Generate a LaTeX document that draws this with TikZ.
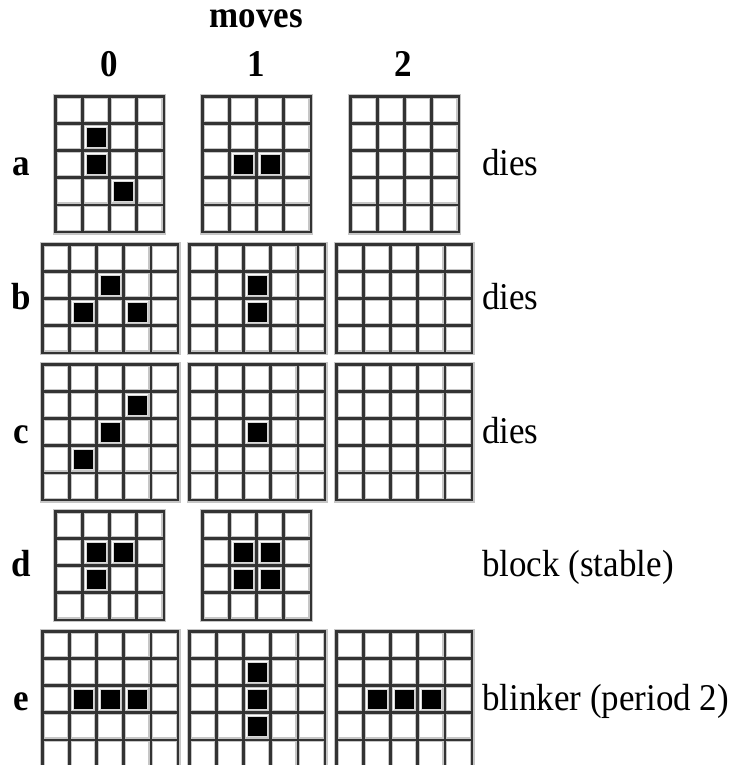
\documentclass[tikz,border=0pt]{standalone}
\usepackage{graphicx}
\usepackage{fontspec}
\setmainfont{Liberation Serif}
\newcommand\tallt[1]{\scalebox{1}[1.08]{#1}}
\tikzset{
  gridhalo/.style={draw=gray!45, line width=5pt, line cap=rect},
  gridcore/.style={draw=black!80, line width=2.7pt, line cap=rect},
  alive/.style={rectangle, fill=black, draw=gray!30, line width=1.2pt,
    minimum size=20pt, inner sep=0pt},
  rowlabel/.style={font=\fontsize{35}{40}\selectfont\bfseries, anchor=base, inner sep=0pt},
  colhead/.style={font=\fontsize{35}{40}\selectfont\bfseries, anchor=base, inner sep=0pt},
  fate/.style={font=\fontsize{35}{40}\selectfont, anchor=base west, inner sep=0pt}
}
\newcommand\lifegrid[5]{% name, x, y, cols, rows
  \coordinate (#1) at (#2,#3);
  \foreach \i in {0,...,#4} \draw[gridhalo] ([shift={({\i*27.1},0)}]#1) -- ++(0,{#5*27.1});
  \foreach \j in {0,...,#5} \draw[gridhalo] ([shift={(0,{\j*27.1})}]#1) -- ++({#4*27.1},0);
  \foreach \i in {0,...,#4} \draw[gridcore] ([shift={({\i*27.1},0)}]#1) -- ++(0,{#5*27.1});
  \foreach \j in {0,...,#5} \draw[gridcore] ([shift={(0,{\j*27.1})}]#1) -- ++({#4*27.1},0);
}
\newcommand\cellon[3]{% grid name, col, row
  \node[alive] (#1-#2-#3) at ([shift={({(#2+0.5)*27.1},{(#3+0.5)*27.1})}]#1) {};
}
\begin{document}
\begin{tikzpicture}[x=1pt, y=-1pt]
  \useasboundingbox (0,0) rectangle (735,765);
  \clip (0,0) rectangle (735,765);

  % headings
  \node[colhead] (moves) at (256,28) {\smash{\tallt{moves}}};
  \node[colhead] (h0) at (109,77) {\tallt{0}};
  \node[colhead] (h1) at (256,77) {\tallt{1}};
  \node[colhead] (h2) at (403,77) {\tallt{2}};

  % row a
  \lifegrid{a0}{55.5}{96.5}{4}{5}
  \lifegrid{a1}{202.5}{96.5}{4}{5}
  \lifegrid{a2}{350.5}{96.5}{4}{5}
  \cellon{a0}{1}{1}\cellon{a0}{1}{2}\cellon{a0}{2}{3}
  \cellon{a1}{1}{2}\cellon{a1}{2}{2}
  \node[rowlabel] (la) at (21,175) {\tallt{a}};
  \node[fate] (fa) at (482,175) {\tallt{dies}};

  % row b
  \lifegrid{b0}{42.5}{244.5}{5}{4}
  \lifegrid{b1}{189.5}{244.5}{5}{4}
  \lifegrid{b2}{336.5}{244.5}{5}{4}
  \cellon{b0}{2}{1}\cellon{b0}{1}{2}\cellon{b0}{3}{2}
  \cellon{b1}{2}{1}\cellon{b1}{2}{2}
  \node[rowlabel] (lb) at (21,309) {\tallt{b}};
  \node[fate] (fb) at (482,309) {\tallt{dies}};

  % row c
  \lifegrid{c0}{42.5}{364.5}{5}{5}
  \lifegrid{c1}{189.5}{364.5}{5}{5}
  \lifegrid{c2}{336.5}{364.5}{5}{5}
  \cellon{c0}{3}{1}\cellon{c0}{2}{2}\cellon{c0}{1}{3}
  \cellon{c1}{2}{2}
  \node[rowlabel] (lc) at (21,443) {\tallt{c}};
  \node[fate] (fc) at (482,443) {\tallt{dies}};

  % row d
  \lifegrid{d0}{55.5}{511.5}{4}{4}
  \lifegrid{d1}{202.5}{511.5}{4}{4}
  \cellon{d0}{1}{1}\cellon{d0}{2}{1}\cellon{d0}{1}{2}
  \cellon{d1}{1}{1}\cellon{d1}{2}{1}\cellon{d1}{1}{2}\cellon{d1}{2}{2}
  \node[rowlabel] (ld) at (21,576) {\tallt{d}};
  \node[fate] (fd) at (482,576) {\tallt{block (stable)}};

  % row e
  \lifegrid{e0}{42.5}{631.5}{5}{5}
  \lifegrid{e1}{189.5}{631.5}{5}{5}
  \lifegrid{e2}{336.5}{631.5}{5}{5}
  \cellon{e0}{1}{2}\cellon{e0}{2}{2}\cellon{e0}{3}{2}
  \cellon{e1}{2}{1}\cellon{e1}{2}{2}\cellon{e1}{2}{3}
  \cellon{e2}{1}{2}\cellon{e2}{2}{2}\cellon{e2}{3}{2}
  \node[rowlabel] (le) at (21,710) {\tallt{e}};
  \node[fate] (fe) at (482,710) {\tallt{blinker (period 2)}};
\end{tikzpicture}
\end{document}
